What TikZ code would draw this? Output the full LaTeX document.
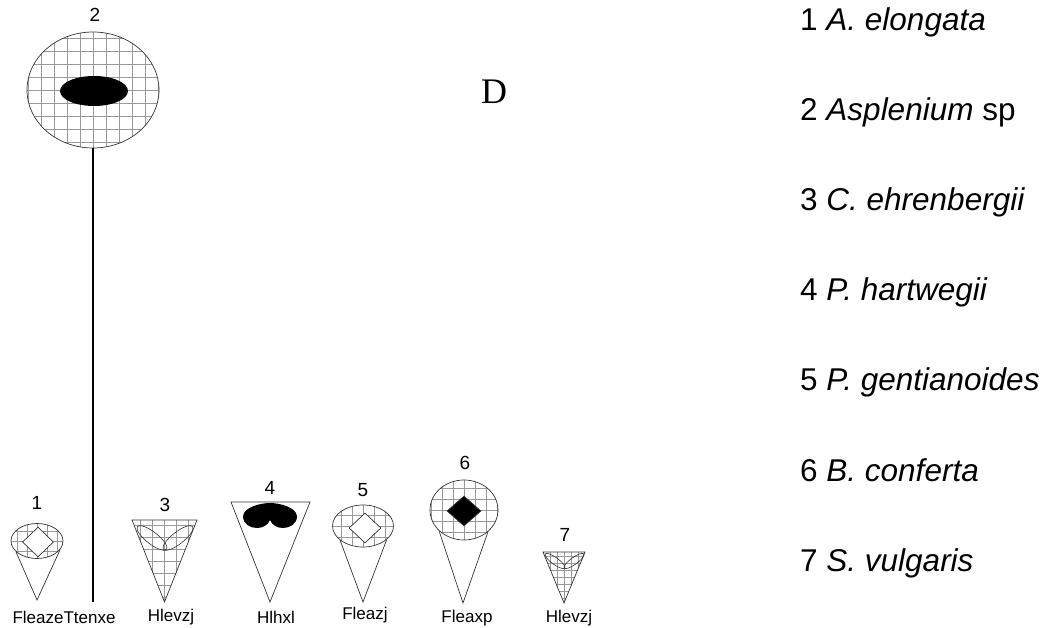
\documentclass[tikz,border=0pt]{standalone}
\usepackage{fontspec}
\setmainfont{Liberation Sans}
\newfontfamily\bigserif{Liberation Serif}
\usetikzlibrary{shapes.geometric}
\begin{document}
\begin{tikzpicture}[x=1pt,y=-1pt,
  outline/.style={draw=black!80, line width=0.7pt},
  gridline/.style={draw=black!40, line width=0.5pt},
  mesh/.style={path picture={%
    \begin{scope}[shift={(path picture bounding box.center)}]
      \draw[gridline, step=#1] (-80,80) grid (80,-80);
    \end{scope}}},
  blob/.style={ellipse, inner sep=0pt, outline},
  gem/.style={diamond, inner sep=0pt, outline},
  petal/.style={ellipse, inner sep=0pt, draw=black!80, line width=0.6pt},
  stem/.style={draw=black, line width=1.5pt},
  num/.style={font=\fontsize{19}{21}\selectfont, inner sep=0pt},
  code/.style={font=\fontsize{17}{19}\selectfont, inner sep=0pt},
  legend/.style={anchor=base west, font=\fontsize{31.5}{34}\selectfont, inner sep=0pt}]
\useasboundingbox (0,0) rectangle (1053,628);

% 2: large meshed disc with a black oval, carried on a long stem
\node[num] (n2) at (95,15) {2};
\node[blob, mesh=13pt, minimum width=132pt, minimum height=116pt] (c2) at (93,90) {};
\node[ellipse, inner sep=0pt, fill=black, minimum width=68pt, minimum height=30pt] (o2) at (94,91) {};
\coordinate (s2) at (93,602);
\draw[stem] (c2.south) -- (s2);

% 1: small meshed disc with open diamond on a cone
\node[num] (n1) at (37,503) {1};
\node[blob, mesh=10pt, minimum width=52pt, minimum height=35pt] (c1) at (37,541) {};
\node[gem, fill=white, minimum width=31pt, minimum height=30pt] (d1) at (38,542) {};
\coordinate (a1) at (37,600);
\draw[outline] (c1.207) -- (a1) -- (c1.340);

% 3: meshed cone with two petals
\node[num] (n3) at (165,505) {3};
\coordinate (t3l) at (132,520);
\coordinate (t3r) at (197,520);
\coordinate (t3a) at (164.5,602);
\draw[outline, mesh=12pt] (t3l) -- (t3r) -- (t3a) -- cycle;
\node[petal, minimum width=37pt, minimum height=12pt, rotate=-38] (p3l) at (152,538) {};
\node[petal, minimum width=37pt, minimum height=12pt, rotate=38] (p3r) at (178,538) {};

% 4: open cone with a black double lobe
\node[num] (n4) at (270,488) {4};
\coordinate (t4l) at (231,502);
\coordinate (t4r) at (310,502);
\coordinate (t4a) at (270,602);
\draw[outline] (t4l) -- (t4r) -- (t4a) -- cycle;
\fill[black] (270,503) .. controls (261,503) and (244,507) .. (243,516)
  .. controls (243,524) and (250,528) .. (257,528)
  .. controls (263,528) and (268,525) .. (270,520)
  .. controls (272,525) and (277,528) .. (283,528)
  .. controls (290,528) and (297,524) .. (297,516)
  .. controls (296,507) and (279,503) .. (270,503) -- cycle;

% 5: meshed disc with open diamond on a cone
\node[num] (n5) at (363,490) {5};
\node[blob, mesh=11pt, minimum width=61pt, minimum height=42pt] (c5) at (363,526) {};
\node[gem, fill=white, minimum width=32pt, minimum height=30pt] (d5) at (365,528) {};
\coordinate (a5) at (363,602);
\draw[outline] (c5.212) -- (a5) -- (c5.330);

% 6: meshed disc with solid diamond on a cone
\node[num] (n6) at (465,463) {6};
\node[blob, mesh=11pt, minimum width=68pt, minimum height=60pt] (c6) at (464,510) {};
\node[gem, fill=black, minimum width=34pt, minimum height=30pt] (d6) at (464,511) {};
\coordinate (a6) at (463,603);
\draw[outline] (c6.220) -- (a6) -- (c6.318);

% 7: small meshed cone with two narrow petals
\node[num] (n7) at (565,535) {7};
\coordinate (t7l) at (543,552);
\coordinate (t7r) at (585,552);
\coordinate (t7a) at (564,603);
\draw[outline, mesh=7pt] (t7l) -- (t7r) -- (t7a) -- cycle;
\node[petal, minimum width=24pt, minimum height=7pt, rotate=-36] (p7l) at (555,561) {};
\node[petal, minimum width=24pt, minimum height=7pt, rotate=36] (p7r) at (574,561) {};

% codes under the figures
\node[code] (l1) at (64,617) {FleazeTtenxe};
\node[code] (l3) at (171,617) {Hlevzj};
\node[code] (l4) at (276,617) {Hlhxl};
\node[code] (l5) at (365,615) {Fleazj};
\node[code] (l6) at (467,618) {Fleaxp};
\node[code] (l7) at (569,618) {Hlevzj};

% panel letter
\node[font=\bigserif\fontsize{36}{40}\selectfont, text=black, inner sep=0pt] (pd) at (494,92) {D};

% species key
\node[legend] (g1) at (800,31) {1 \textit{A. elongata}};
\node[legend] (g2) at (800,121) {2 \textit{Asplenium} sp};
\node[legend] (g3) at (800,211) {3 \textit{C. ehrenbergii}};
\node[legend] (g4) at (800,301) {4 \textit{P. hartwegii}};
\node[legend] (g5) at (800,391) {5 \textit{P. gentianoides}};
\node[legend] (g6) at (800,481) {6 \textit{B. conferta}};
\node[legend] (g7) at (800,571) {7 \textit{S. vulgaris}};
\end{tikzpicture}
\end{document}
